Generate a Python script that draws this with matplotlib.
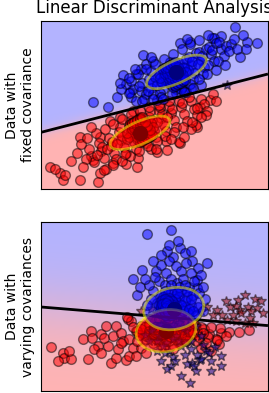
import numpy as np
import matplotlib
matplotlib.use("Agg")
import matplotlib.pyplot as plt
from matplotlib import colors
from matplotlib.patches import Ellipse

# points (units: panel pixels, origin bottom-left)
fixed_red = [
    (9, 22), (19, 16), (22, 9), (39, 9), (57, 7), (59, 16), (36, 36), (52, 29), (72, 26), (96, 22),
    (97, 31), (116, 37), (139, 46), (156, 62), (169, 89), (159, 82), (92, 78), (79, 72), (69, 68),
    (39, 52), (59, 52), (14, 20), (24, 14),
    (50, 33), (48, 40), (53, 27), (45, 30),
    (60, 38), (58, 46), (63, 31), (61, 42), (56, 34),
    (70, 43), (68, 51), (73, 36), (71, 47), (66, 40), (75, 30),
    (80, 49), (78, 57), (83, 42), (81, 53), (76, 45), (85, 36), (79, 62),
    (90, 54), (88, 62), (93, 47), (91, 58), (86, 50), (95, 40), (89, 68),
    (100, 60), (98, 67), (103, 53), (101, 64), (96, 56), (105, 46), (99, 72),
    (110, 65), (108, 72), (113, 58), (111, 69), (106, 61), (115, 52), (109, 78),
    (120, 71), (118, 78), (123, 64), (121, 75), (116, 67), (125, 58), (119, 82),
    (130, 76), (128, 83), (133, 69), (131, 80), (126, 72), (135, 62),
    (140, 82), (138, 88), (143, 75), (141, 86), (146, 68),
    (150, 88), (148, 92), (153, 80), (156, 74),
    (160, 90), (163, 85), (166, 78), (172, 95), (175, 88),
    (40, 45), (30, 28), (42, 22), (65, 20), (85, 25), (110, 40), (125, 48),
    (165, 74), (155, 64), (150, 60), (138, 47), (126, 39), (143, 52), (156, 81),
    (46, 51), (63, 19), (55, 56), (72, 24), (64, 60), (81, 28), (72, 65), (89, 33), (81, 70),
    (98, 38), (90, 75), (107, 43), (99, 78), (116, 48), (108, 82), (124, 53), (118, 84),
    (133, 57), (128, 88), (142, 62), (151, 67), (160, 72), (84, 35), (115, 40), (130, 50), (50, 62),
    (95, 57), (99, 59), (103, 61), (92, 55), (106, 63), (97, 64), (101, 54), (94, 62), (104, 56),
    (90, 58), (108, 60), (99, 66), (99, 52), (96, 50), (102, 68), (88, 52), (110, 66), (93, 60),
    (105, 58), (100, 62), (86, 56), (112, 62),
    # dense core under the ellipse
    (99, 47), (96, 52), (94, 56), (91, 60), (89, 65), (101, 49), (99, 53), (96, 58), (94, 62),
    (91, 66), (104, 50), (101, 55), (99, 59), (97, 63), (94, 68), (107, 52), (104, 56), (102, 60),
    (99, 65), (97, 69), (109, 53), (107, 58), (104, 62), (102, 66), (99, 71),
    (101, 48), (98, 53), (96, 57), (93, 61), (91, 66), (103, 50), (101, 54), (98, 59), (96, 63),
    (93, 67), (106, 51), (103, 56), (101, 60), (99, 64), (96, 69), (109, 53), (106, 57), (104, 61),
    (101, 66), (99, 70), (111, 54), (109, 59), (106, 63), (104, 67), (101, 72),
]
fixed_blue = [
    (194, 162), (216, 146), (206, 147), (199, 132), (171, 151), (149, 147), (139, 146), (102, 134),
    (82, 114), (52, 87), (67, 82), (76, 92), (89, 97), (116, 89), (180, 153), (173, 151),
    (90, 92), (92, 100), (95, 88), (88, 96),
    (100, 98), (101, 106), (103, 90), (98, 103), (105, 95),
    (110, 101), (108, 110), (112, 95), (111, 106), (107, 98), (114, 112),
    (120, 107), (118, 115), (122, 100), (119, 96), (124, 112), (116, 104), (121, 120),
    (130, 113), (128, 121), (133, 105), (131, 118), (126, 108), (135, 100), (129, 127),
    (140, 118), (138, 126), (142, 110), (143, 122), (137, 113), (145, 130), (141, 102),
    (150, 124), (148, 132), (153, 116), (151, 128), (147, 119), (155, 136), (152, 110),
    (160, 129), (158, 137), (163, 122), (161, 133), (157, 125), (165, 140), (162, 115),
    (170, 135), (168, 142), (173, 128), (171, 139), (175, 146), (167, 124),
    (180, 140), (178, 147), (183, 133), (185, 143), (177, 128),
    (190, 145), (188, 138), (193, 150), (196, 140), (202, 154), (205, 140),
    (120, 92), (135, 96), (150, 100), (160, 104), (145, 97), (186, 104),
    (85, 105), (95, 115), (100, 120), (105, 125), (110, 118), (90, 108), (80, 100), (112, 128),
    (79, 106), (88, 111), (101, 88), (97, 115), (112, 90), (105, 120), (122, 90), (114, 125),
    (131, 95), (123, 130), (140, 100), (132, 135), (149, 105), (141, 140), (158, 110),
    (149, 145), (166, 115), (158, 149), (175, 119), (167, 154), (184, 124), (110, 132),
    (152, 101), (146, 150), (94, 120), (143, 97),
    (128, 112), (132, 114), (136, 116), (125, 110), (139, 118), (130, 119), (134, 109), (127, 117),
    (137, 111), (123, 113), (141, 115), (132, 121), (132, 107), (129, 105), (135, 123), (121, 107),
    (143, 121), (126, 115), (138, 113), (133, 117), (119, 111), (145, 117),
    # dense core under the ellipse
    (132, 102), (129, 107), (127, 111), (124, 115), (122, 120), (134, 104), (132, 108), (129, 113),
    (127, 117), (124, 121), (137, 105), (134, 110), (132, 114), (130, 118), (127, 123), (140, 107),
    (137, 111), (135, 115), (132, 120), (130, 124), (142, 108), (140, 113), (137, 117), (135, 121),
    (132, 126),
    (134, 103), (131, 108), (129, 112), (126, 116), (124, 121), (136, 105), (134, 109), (131, 114),
    (129, 118), (126, 122), (139, 106), (136, 111), (134, 115), (132, 119), (129, 124), (142, 108),
    (139, 112), (137, 116), (134, 121), (132, 125), (144, 109), (142, 114), (139, 118), (137, 122),
    (134, 127),
]
varying_red = [
    (10, 44), (22, 38), (23, 33), (30, 32), (47, 32), (42, 52), (50, 60), (51, 53), (60, 57), (65, 65),
    (75, 65), (87, 72), (90, 70), (70, 28), (75, 33), (85, 31), (88, 35), (57, 45), (67, 45), (63, 53),
    (72, 55), (80, 58), (82, 50), (88, 52), (92, 43), (100, 43), (96, 50), (100, 60), (77, 42), (80, 48),
    (53, 42), (17, 30), (28, 40), (60, 38), (95, 35), (105, 38), (86, 74),
    (110, 60), (115, 55), (120, 65), (125, 58), (130, 62), (135, 55), (140, 60), (145, 52), (105, 52),
    (112, 48), (118, 50), (128, 50), (138, 48), (100, 65), (108, 68), (116, 72), (124, 70), (132, 68),
    (140, 66), (148, 62), (102, 58), (122, 44), (132, 42), (95, 60), (150, 56),
    (163, 62), (168, 57), (180, 58), (188, 59), (198, 59), (175, 52), (178, 47), (160, 43), (179, 63),
    (167, 54), (176, 51), (155, 50), (165, 48), (170, 40), (185, 55), (208, 61),
    (204, 96), (216, 83), (207, 84), (197, 91), (199, 81), (189, 84), (192, 76), (209, 73), (204, 68),
    (186, 71), (176, 81), (172, 76), (166, 84), (181, 76), (212, 68), (195, 70), (220, 90), (185, 90),
    (160, 80), (150, 78), (200, 78), (210, 80), (195, 85), (214, 92), (222, 78),
    (120, 80), (130, 78), (140, 76), (110, 82), (100, 80),
    (105, 55), (110, 58), (115, 62), (118, 66), (122, 60), (126, 64), (128, 58), (130, 54), (134, 62),
    (136, 68), (138, 58), (142, 62), (144, 66), (146, 56), (150, 62), (152, 58), (154, 66), (156, 60),
    (158, 54), (160, 64), (162, 58), (112, 62), (108, 66), (114, 70), (120, 64), (124, 68), (126, 56),
    (132, 64), (140, 56), (148, 60), (104, 64), (110, 72), (118, 72), (130, 70), (96, 60), (98, 56),
    (92, 64), (100, 62), (135, 52), (145, 50), (115, 52), (125, 50), (142, 70), (152, 68), (170, 64),
    (118, 56), (134, 56), (108, 60), (128, 72), (138, 66),
    # dense core under the ellipse
    (115, 58), (118, 61), (121, 57), (116, 63), (120, 60), (123, 62), (113, 60), (119, 56), (122, 65),
    (117, 59), (114, 62), (121, 61), (118, 57), (124, 59), (116, 60), (119, 63), (122, 58), (115, 61),
    (120, 64), (117, 56), (123, 60), (114, 58), (118, 62), (121, 59), (116, 57), (119, 60), (122, 63),
    (115, 64), (120, 58), (117, 62), (113, 63), (124, 62), (118, 59), (121, 64), (116, 61), (119, 58),
    (123, 57), (115, 56), (120, 61), (117, 64), (114, 60), (122, 60), (118, 64), (121, 56), (116, 59),
    (119, 62), (124, 64), (115, 59), (120, 57), (117, 60), (113, 57), (123, 63), (118, 58), (121, 62),
    (116, 64), (119, 59), (122, 61), (115, 62), (120, 59), (117, 58), (114, 64), (124, 58), (118, 60),
    (121, 58), (116, 62), (119, 64), (123, 61), (115, 60), (120, 62), (117, 57), (113, 61), (122, 57),
    (118, 63), (121, 60), (116, 58), (119, 61), (124, 60), (114, 59), (120, 63), (117, 61),
]
varying_blue = [
    (106, 157), (130, 161), (139, 143), (132, 134), (101, 121), (92, 112), (151, 130), (166, 128),
    (157, 123), (156, 111), (156, 103), (164, 92), (96, 96), (99, 104),
    (115, 120), (120, 126), (125, 118), (128, 130), (135, 125), (140, 120), (145, 128), (150, 118),
    (118, 110), (124, 106), (130, 112), (136, 108), (142, 112), (148, 104), (153, 110), (112, 100),
    (120, 96), (127, 98), (134, 95), (140, 100), (146, 94), (152, 96), (158, 98), (116, 88), (122, 84),
    (130, 86), (138, 88), (144, 84), (150, 86), (157, 84), (125, 78), (133, 80), (140, 76), (147, 78),
    (155, 76), (110, 92), (108, 106), (114, 114), (126, 140), (120, 136), (144, 138), (137, 150),
    (128, 146), (112, 130), (104, 112), (150, 140), (160, 116), (162, 104), (106, 86), (118, 78),
    (162, 80),
    (120, 90), (126, 92), (132, 88), (138, 94), (144, 90), (150, 92), (128, 84), (136, 82), (142, 80),
    (130, 100), (138, 104), (146, 100), (124, 100), (134, 92), (140, 86), (148, 82), (126, 76),
    (132, 76), (152, 80), (118, 86), (136, 98), (144, 106), (130, 106), (122, 94),
    (149, 8), (159, 31), (151, 28), (144, 36), (132, 34), (124, 38), (174, 44), (146, 27), (160, 32),
    (153, 25), (120, 30), (130, 25), (140, 45), (150, 50), (160, 55), (165, 40), (170, 30), (180, 25),
    (135, 55), (145, 60), (155, 65), (128, 62), (138, 68), (118, 55), (125, 48), (132, 52), (142, 62),
    (112, 62), (120, 66),
    (110, 60), (116, 50), (122, 45), (128, 40), (134, 30), (138, 50), (144, 48), (150, 42), (156, 36),
    (162, 46), (168, 38), (116, 40), (108, 50), (126, 22), (140, 15), (155, 20), (170, 20), (180, 35),
    (120, 58), (132, 66), (146, 64), (104, 56),
    # dense core under the ellipse
    (122, 80), (125, 83), (128, 79), (131, 85), (124, 88), (129, 90), (133, 81), (120, 86), (127, 76),
    (123, 92), (130, 78), (126, 86), (121, 83), (132, 88), (125, 79), (128, 84), (123, 77), (130, 91),
    (127, 88), (124, 82), (119, 80), (134, 84), (126, 74), (122, 89), (131, 82), (128, 93), (120, 78),
    (133, 87), (125, 90), (129, 76), (124, 85), (127, 81), (130, 87), (122, 86), (126, 78), (132, 79),
    (121, 91), (128, 88), (123, 84), (129, 82), (125, 76), (131, 90), (120, 84), (127, 86), (124, 79),
    (130, 84), (122, 82), (128, 77), (126, 91), (133, 84), (121, 79), (129, 87), (124, 92), (127, 83),
    (131, 80), (123, 88), (125, 86), (128, 81), (130, 76), (122, 84), (126, 82), (129, 79), (124, 76),
    (132, 86), (121, 87), (127, 90), (125, 81), (130, 82), (123, 80), (128, 86), (126, 85), (124, 83),
    (129, 84), (127, 79), (125, 88),
]

panel_width = 227
panel_heights = [168, 169]
row_labels = ["Data with\nfixed covariance", "Data with\nvarying covariances"]
title = "Linear Discriminant Analysis"

cmap = colors.LinearSegmentedColormap(
    "red_blue_classes",
    {"red": [(0, 1, 1), (1, 0.7, 0.7)],
     "green": [(0, 0.7, 0.7), (1, 0.7, 0.7)],
     "blue": [(0, 0.7, 0.7), (1, 1, 1)]})


def fit_lda(X0, X1):
    mu0, mu1 = X0.mean(0), X1.mean(0)
    p0 = len(X0) / (len(X0) + len(X1))
    p1 = 1 - p0
    cov = p0 * np.cov(X0.T, bias=True) + p1 * np.cov(X1.T, bias=True)
    w = np.linalg.solve(cov, mu1 - mu0)
    b = -0.5 * (mu0 + mu1) @ w + np.log(p1 / p0)
    return mu0, mu1, cov, w, b


def plot_ellipse(ax, mean, cov, color):
    v, vec = np.linalg.eigh(cov)
    angle = np.degrees(np.arctan2(vec[1, 0], vec[0, 0]))
    ell = Ellipse(mean, 2 * v[0] ** 0.5, 2 * v[1] ** 0.5, angle=180 + angle,
                  facecolor=color, edgecolor="yellow", linewidth=2, zorder=2)
    ell.set_clip_box(ax.bbox)
    ell.set_alpha(0.5)
    ax.add_artist(ell)


def plot_panel(ax, red, blue, height, label):
    X0 = np.array(red, dtype=float)
    X1 = np.array(blue, dtype=float)
    mu0, mu1, cov, w, b = fit_lda(X0, X1)
    wrong0 = X0 @ w + b > 0
    wrong1 = X1 @ w + b <= 0

    ms = 7
    ax.plot(X0[~wrong0, 0], X0[~wrong0, 1], "o", ms=ms, alpha=0.5, color="red", markeredgecolor="k")
    ax.plot(X0[wrong0, 0], X0[wrong0, 1], "*", ms=ms, alpha=0.5, color="#990000", markeredgecolor="k")
    ax.plot(X1[~wrong1, 0], X1[~wrong1, 1], "o", ms=ms, alpha=0.5, color="blue", markeredgecolor="k")
    ax.plot(X1[wrong1, 0], X1[wrong1, 1], "*", ms=ms, alpha=0.5, color="#000099", markeredgecolor="k")

    xx, yy = np.meshgrid(np.linspace(0, panel_width, 200), np.linspace(0, height, 150))
    Z = 1 / (1 + np.exp(-(w[0] * xx + w[1] * yy + b)))
    ax.pcolormesh(xx, yy, Z, cmap=cmap, norm=colors.Normalize(0., 1.), zorder=0, shading="auto")
    ax.contour(xx, yy, Z, [0.5], linewidths=2., colors="k")

    ax.plot(mu0[0], mu0[1], "o", color="black", markersize=10)
    ax.plot(mu1[0], mu1[1], "o", color="black", markersize=10)
    plot_ellipse(ax, mu0, cov, "red")
    plot_ellipse(ax, mu1, cov, "blue")

    ax.set_xlim(0, panel_width)
    ax.set_ylim(0, height)
    ax.set_xticks(())
    ax.set_yticks(())
    ax.set_ylabel(label, fontsize=10)


fig = plt.figure(figsize=(2.69, 3.93), dpi=100)
ax1 = fig.add_axes([0.152, 0.519, 0.844, 0.4275])
ax2 = fig.add_axes([0.152, 0.005, 0.844, 0.43])

plot_panel(ax1, fixed_red, fixed_blue, panel_heights[0], row_labels[0])
plot_panel(ax2, varying_red, varying_blue, panel_heights[1], row_labels[1])
ax1.set_title(title, fontsize=12)

fig.savefig("out.png", dpi=100)
